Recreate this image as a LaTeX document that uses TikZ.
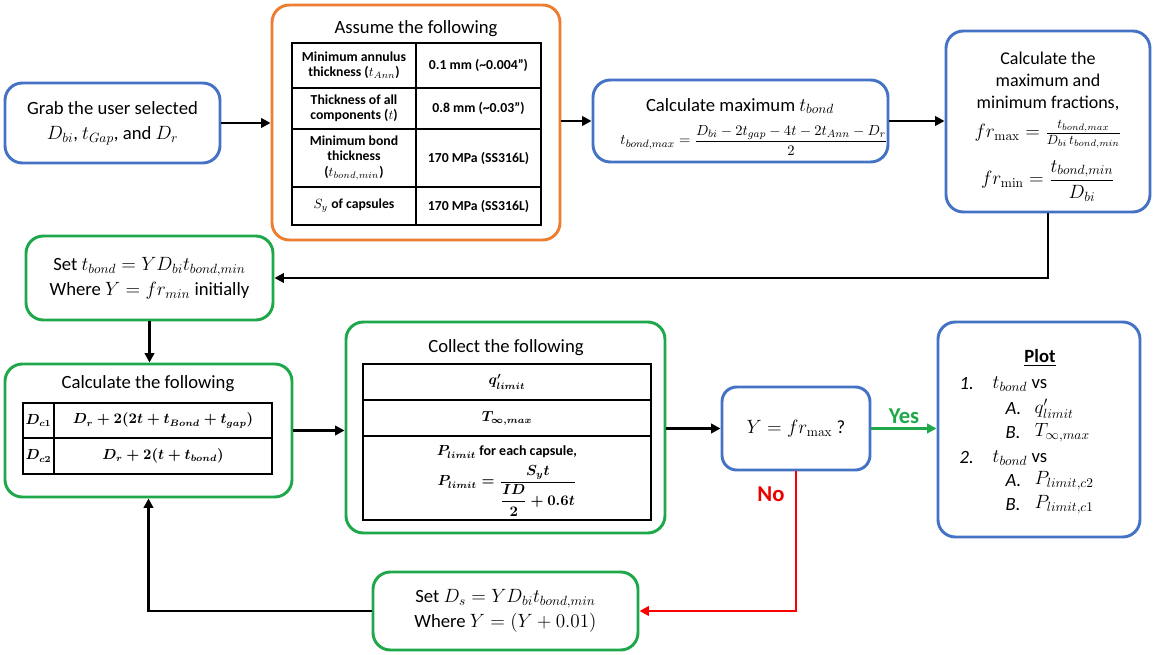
\documentclass[tikz,border=0pt]{standalone}
\usepackage{amsmath}
\usepackage[no-math]{fontspec}
\setmainfont{Carlito}
\usetikzlibrary{arrows.meta}
\definecolor{boxblue}{RGB}{68,114,196}
\definecolor{boxorange}{RGB}{237,125,49}
\definecolor{boxgreen}{RGB}{30,168,74}
\definecolor{nored}{RGB}{235,0,0}
\tikzset{
  flowbox/.style={draw=#1, line width=2.2pt, rounded corners=13pt, align=center, inner sep=0pt, fill=white},
  sized/.style 2 args={minimum width=#1*0.75pt, minimum height=#2*0.75pt},
  flow/.style={line width=2.2pt, -{Triangle[length=7pt,width=7pt]}},
  grid/.style={line width=0.8pt},
  cell/.style={font=\fontsize{10.3}{11.5}\selectfont\bfseries, align=center},
  mcell/.style={font=\fontsize{10.5}{12}\selectfont\bfseries\boldmath, align=center},
  plotitem/.style={anchor=west, font=\fontsize{14}{16}\selectfont}
}
\begin{document}
\begin{tikzpicture}[x=0.75pt, y=-0.75pt, font=\fontsize{14}{18.8}\selectfont]
\useasboundingbox (0,0) rectangle (1154,655);

% top row
\node[flowbox=boxblue, sized={215}{80}] (grab) at (112.5,123) {Grab the user selected\\ $D_{bi}$, $t_{Gap}$, and $D_r$};
\node[flowbox=boxorange, sized={288}{235}] (assume) at (416,122.5) {};
\node (assumet) at (416,29) {Assume the following};
\draw[grid] (292,43) rectangle (541,225);
\foreach \yy in {88,129,187} \draw[grid] (292,\yy) -- (541,\yy);
\draw[grid] (416,43) -- (416,225);
\node[cell] (a11) at (354,65.5) {Minimum annulus\\thickness ($t_{Ann}$)};
\node[cell] (a12) at (478.5,65.5) {0.1 mm (\textasciitilde0.004'')};
\node[cell] (a21) at (354,108.5) {Thickness of all\\components ($t$)};
\node[cell] (a22) at (478.5,108.5) {0.8 mm (\textasciitilde0.03'')};
\node[cell] (a31) at (354,158) {Minimum bond\\thickness\\($t_{bond,min}$)};
\node[cell] (a32) at (478.5,158) {170 MPa (SS316L)};
\node[cell] (a41) at (354,206) {$S_y$ of capsules};
\node[cell] (a42) at (478.5,206) {170 MPa (SS316L)};

\node[flowbox=boxblue, sized={295}{82}] (maxb) at (740.5,121) {};
\node (maxbt) at (740,106) {Calculate maximum $t_{bond}$};
\node[anchor=base, font=\fontsize{11}{13}\selectfont] (maxbf) at (754,145) {$t_{bond,max}=\dfrac{D_{bi}-2t_{gap}-4t-2t_{Ann}-D_r}{2}$};
\node[flowbox=boxblue, sized={204}{181}] (frac) at (1048,121.5) {};
\node[align=center, font=\fontsize{13.5}{16.5}\selectfont] (fract) at (1048,81) {Calculate the\\maximum and\\minimum fractions,};
\node[anchor=base] (fmax) at (1048,138) {$fr_{\max}=\frac{t_{bond,max}}{D_{bi}\,t_{bond,min}}$};
\node[anchor=base] (fmin) at (1048,185) {$fr_{\min}=\dfrac{t_{bond,min}}{D_{bi}}$};

% middle
\node[flowbox=boxgreen, sized={247}{84}] (sett) at (149.5,278) {Set $t_{bond}=YD_{bi}t_{bond,min}$\\Where $Y=fr_{min}$ initially};

\node[flowbox=boxgreen, sized={287}{133}] (calc) at (148.5,430.5) {};
\node (calct) at (148,384) {Calculate the following};
\draw[grid] (23,403) rectangle (272,474);
\draw[grid] (23,438) -- (272,438);
\draw[grid] (54,403) -- (54,474);
\node[mcell] (c11) at (38.5,420.5) {$D_{c1}$};
\node[mcell] (c12) at (163,420.5) {$D_r+2(2t+t_{Bond}+t_{gap})$};
\node[mcell] (c21) at (38.5,456) {$D_{c2}$};
\node[mcell] (c22) at (163,456) {$D_r+2(t+t_{bond})$};

\node[flowbox=boxgreen, sized={319}{211}] (collect) at (505.5,427.5) {};
\node (collectt) at (506,348) {Collect the following};
\draw[grid] (363,364) rectangle (651,520);
\foreach \yy in {400,436} \draw[grid] (363,\yy) -- (651,\yy);
\node[mcell] (q1) at (507,382) {$q'_{limit}$};
\node[mcell] (q2) at (507,418) {$T_{\infty,max}$};
\node[mcell] (q3) at (507,452) {$P_{limit}$ for each capsule,};
\node[mcell, anchor=base] (q4) at (507,486) {$P_{limit}=\dfrac{S_yt}{\dfrac{ID}{2}+0.6t}$};

\node[flowbox=boxblue, sized={148}{83}, rounded corners=11pt] (ybox) at (796,428.5) {$Y=fr_{\max}$ ?};

\node[flowbox=boxblue, sized={202}{215}] (plot) at (1039,429.5) {};
\node (plott) at (1040,358) {\textbf{\underline{Plot}}};
\node[plotitem] (p1) at (955,384) {\rmfamily\itshape 1.};
\node[plotitem] (p1t) at (988,384) {$t_{bond}$ vs};
\node[plotitem] (p1a) at (1001,409) {\rmfamily\itshape A.};
\node[plotitem] (p1av) at (1030,409) {$q'_{limit}$};
\node[plotitem] (p1b) at (1001,433) {\rmfamily\itshape B.};
\node[plotitem] (p1bv) at (1030,433) {$T_{\infty,max}$};
\node[plotitem] (p2) at (955,458) {\rmfamily\itshape 2.};
\node[plotitem] (p2t) at (988,458) {$t_{bond}$ vs};
\node[plotitem] (p2a) at (1001,481) {\rmfamily\itshape A.};
\node[plotitem] (p2av) at (1030,481) {$P_{limit,c2}$};
\node[plotitem] (p2b) at (1001,505) {\rmfamily\itshape B.};
\node[plotitem] (p2bv) at (1030,505) {$P_{limit,c1}$};

% bottom
\node[flowbox=boxgreen, sized={265}{78}] (setd) at (505.5,611) {Set $D_s=YD_{bi}t_{bond,min}$\\Where $Y=(Y+0.01)$};

% connectors
\path[draw,flow] (grab.east) -- (grab.east -| assume.west);
\path[draw,flow] (assume.east |- maxb.west) -- (maxb.west);
\path[draw,flow] (maxb.east) -- (maxb.east -| frac.west);
\path[draw,flow] (frac.south) |- (sett.east);
\path[draw,flow] (sett.south) -- (sett.south |- calc.north);
\path[draw,flow] (calc.east) -- (calc.east -| collect.west);
\path[draw,flow] (collect.east |- ybox.west) -- (ybox.west);
\path[draw,flow,boxgreen] (ybox.east) -- node[above=-1pt, font=\fontsize{17}{19}\selectfont\bfseries] (yes) {Yes} (ybox.east -| plot.west);
\path[draw,flow,red] (ybox.south) |- (setd.east);
\node[text=nored, font=\fontsize{17}{19}\selectfont\bfseries] (no) at (771,494) {No};
\path[draw,flow] (setd.west) -| (calc.south);
\end{tikzpicture}
\end{document}
